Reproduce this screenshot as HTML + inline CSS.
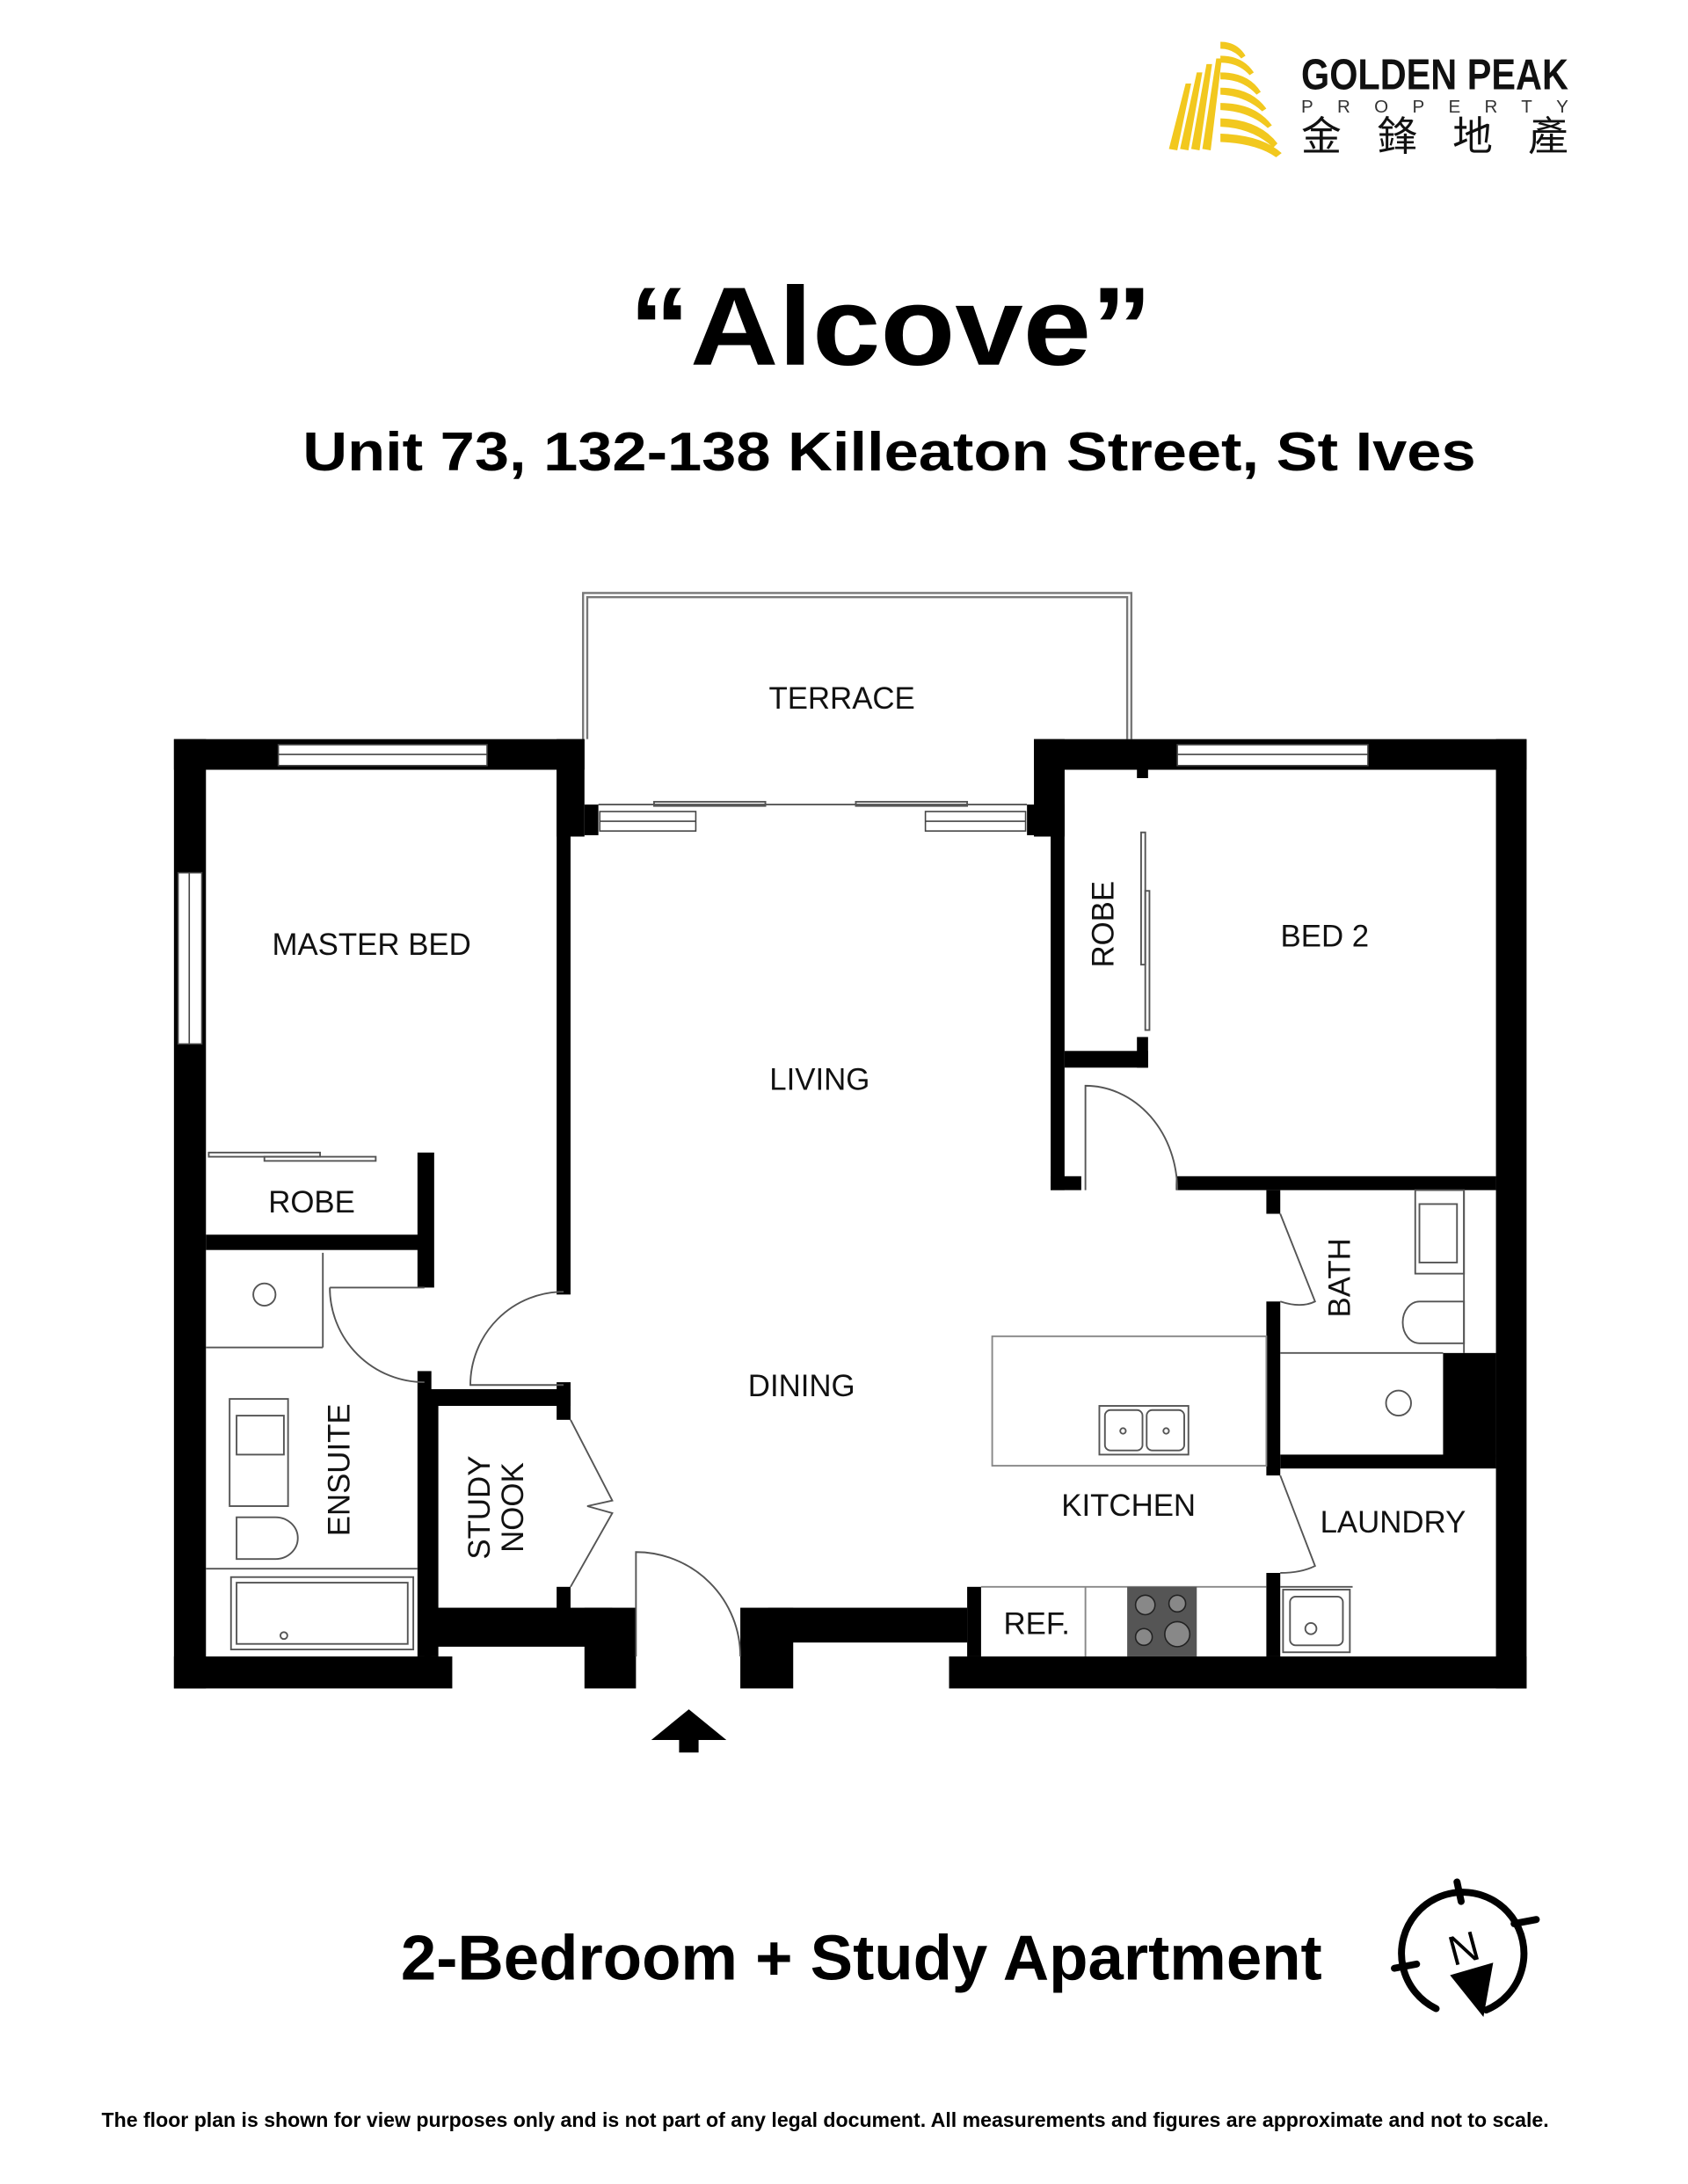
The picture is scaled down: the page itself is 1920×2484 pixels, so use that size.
<!DOCTYPE html>
<html><head><meta charset="utf-8"><style>
html,body{margin:0;padding:0;background:#fff}
svg{display:block}
text{font-family:"Liberation Sans",sans-serif}
</style></head><body>
<svg width="1920" height="2484" viewBox="0 0 1213 1569" preserveAspectRatio="none" xmlns="http://www.w3.org/2000/svg">
<rect width="1213" height="1569" fill="#fff"/>
<!-- logo -->
<g fill="#f2c81e">
<polygon points="840,107 852,60 856,60 846,108"/>
<polygon points="848,107 860,52 864,52 854,108"/>
<polygon points="856,107 867,46 871,46 862,108"/>
<polygon points="864,107 874,42 878,42 870,108"/>
<path d="M877,30 q12,0 18,10 l-3,2 q-6,-7 -15,-7z"/>
<path d="M877,40 q16,0 24,12 l-3,2 q-8,-9 -21,-9z"/>
<path d="M877,52 q20,0 29,14 l-3,2 q-10,-11 -26,-11z"/>
<path d="M877,63 q22,0 33,15 l-3,2 q-12,-11 -30,-12z"/>
<path d="M877,74 q25,0 37,16 l-3,2 q-13,-12 -34,-13z"/>
<path d="M877,85 q28,1 41,18 l-3,3 q-15,-14 -38,-15z"/>
<path d="M877,96 q30,1 44,14 l-4,3 q-14,-10 -40,-11z"/>
</g>
<text x="935" y="64" font-size="31" font-weight="bold" fill="#111" textLength="192" lengthAdjust="spacingAndGlyphs">GOLDEN PEAK</text>
<text x="935" y="81" font-size="13" fill="#333" textLength="192" lengthAdjust="spacing">PROPERTY</text>
<text x="935" y="108" font-size="29" fill="#111" style='font-family:"Noto Sans CJK TC",sans-serif' textLength="192" lengthAdjust="spacing">金鋒地產</text>
<!-- titles -->
<text x="640" y="262" font-size="80" font-weight="bold" text-anchor="middle" textLength="376" lengthAdjust="spacingAndGlyphs">“Alcove”</text>
<text x="639" y="338" font-size="39" font-weight="bold" text-anchor="middle" textLength="843" lengthAdjust="spacingAndGlyphs">Unit 73, 132-138 Killeaton Street, St Ives</text>
<text x="619" y="1422" font-size="46" font-weight="bold" text-anchor="middle" textLength="662" lengthAdjust="spacingAndGlyphs">2-Bedroom + Study Apartment</text>
<text x="593" y="1528" font-size="14.5" font-weight="bold" text-anchor="middle" textLength="1040" lengthAdjust="spacingAndGlyphs">The floor plan is shown for view purposes only and is not part of any legal document. All measurements and figures are approximate and not to scale.</text>
<!-- terrace -->
<g fill="none" stroke="#777" stroke-width="1.5">
<path d="M419,531 V426 H813 V531"/><path d="M422,531 V429 H810 V531"/>
</g>
<!-- walls -->
<g fill="#000">
<rect x="125" y="531" width="23" height="682"/>
<rect x="125" y="531" width="295" height="22"/>
<rect x="400" y="531" width="20" height="70"/>
<rect x="400" y="553" width="10" height="377"/>
<rect x="420" y="578" width="10" height="22"/>
<rect x="738" y="578" width="27" height="22"/>
<rect x="743" y="531" width="354" height="22"/>
<rect x="743" y="531" width="22" height="70"/>
<rect x="755" y="553" width="10" height="302"/>
<rect x="1075" y="531" width="22" height="682"/>
<rect x="817" y="553" width="8" height="6"/>
<rect x="765" y="755" width="60" height="12"/>
<rect x="817" y="745" width="8" height="22"/>
<rect x="845" y="845" width="230" height="10"/>
<rect x="755" y="845" width="22" height="10"/>
<rect x="148" y="887" width="157" height="11"/>
<rect x="300" y="828" width="12" height="97"/>
<rect x="300" y="985" width="10" height="205"/>
<rect x="305" y="998" width="105" height="12"/>
<rect x="400" y="993" width="10" height="27"/>
<rect x="400" y="1140" width="10" height="20"/>
<rect x="305" y="1000" width="10" height="190"/>
<rect x="125" y="1190" width="200" height="23"/>
<rect x="305" y="1155" width="135" height="28"/>
<rect x="420" y="1155" width="37" height="58"/>
<rect x="532" y="1155" width="38" height="58"/>
<rect x="552" y="1155" width="143" height="25"/>
<rect x="682" y="1190" width="415" height="23"/>
<rect x="695" y="1140" width="10" height="50"/>
<rect x="910" y="855" width="10" height="17"/>
<rect x="910" y="935" width="10" height="125"/>
<rect x="910" y="1130" width="10" height="60"/>
<rect x="920" y="1045" width="155" height="10"/>
<rect x="1037" y="972" width="38" height="75"/>
</g>
<!-- windows -->
<g fill="#fff" stroke="#444" stroke-width="1">
<rect x="200" y="535" width="150" height="15"/><line x1="200" y1="542" x2="350" y2="542"/>
<rect x="846" y="535" width="137" height="15"/><line x1="846" y1="542" x2="983" y2="542"/>
<rect x="128" y="627" width="17" height="123"/><line x1="136" y1="627" x2="136" y2="750"/>
<rect x="431" y="583" width="69" height="14"/><line x1="431" y1="590" x2="500" y2="590"/>
<rect x="665" y="583" width="72" height="14"/><line x1="665" y1="590" x2="737" y2="590"/>
</g>
<g fill="none" stroke="#555" stroke-width="1.2">
<line x1="430" y1="578" x2="738" y2="578"/>
<rect x="470" y="576" width="80" height="3"/><rect x="615" y="576" width="80" height="3"/>
<rect x="150" y="828" width="80" height="3"/><rect x="190" y="831" width="80" height="3"/>
<rect x="820" y="598" width="3" height="95"/><rect x="823" y="640" width="3" height="100"/>
<path d="M237,925 H305 M237,925 A68,68 0 0 0 305,993"/>
<path d="M405,928 A67,67 0 0 0 338,995 H405"/>
<path d="M457,1190 V1115 A75,75 0 0 1 532,1190"/>
<path d="M780,855 V780 A66,75 0 0 1 846,855"/>
<path d="M920,872 L945,935 Q935,940 920,935"/>
<path d="M920,1060 L945,1125 Q935,1130 920,1130"/>
<path d="M410,1020 L440,1078 L422,1082 L440,1087 L410,1140"/>
<rect x="713" y="960" width="197" height="93" stroke="#888"/>
<rect x="790" y="1010" width="64" height="35"/><rect x="794" y="1013" width="27" height="29" rx="4"/><rect x="824" y="1013" width="27" height="29" rx="4"/>
<circle cx="807" cy="1028" r="2"/><circle cx="838" cy="1028" r="2"/>
<line x1="705" y1="1140" x2="910" y2="1140" stroke="#888"/>
<line x1="780" y1="1140" x2="780" y2="1190" stroke="#888"/>
<line x1="920" y1="972" x2="1037" y2="972"/>
<rect x="1017" y="855" width="35" height="60"/><rect x="1020" y="865" width="27" height="42"/>
<path d="M1052,935 H1020 A12,15 0 0 0 1020,965 H1052 Z"/><line x1="1052" y1="855" x2="1052" y2="972"/>
<circle cx="1005" cy="1008" r="9"/>
<line x1="920" y1="1140" x2="972" y2="1140"/>
<rect x="922" y="1142" width="48" height="45"/><rect x="927" y="1147" width="38" height="35" rx="4"/><circle cx="942" cy="1170" r="4"/>
<line x1="148" y1="968" x2="232" y2="968"/><line x1="232" y1="900" x2="232" y2="968"/>
<circle cx="190" cy="930" r="8"/>
<rect x="165" y="1005" width="42" height="77"/><rect x="170" y="1017" width="34" height="28"/>
<path d="M170,1090 H198 A16,15 0 0 1 198,1120 H170 Z"/>
<line x1="148" y1="1127" x2="300" y2="1127"/>
<rect x="166" y="1133" width="131" height="52"/><rect x="170" y="1137" width="123" height="44"/>
<circle cx="204" cy="1175" r="2.5"/>
</g>
<rect x="810" y="1140" width="50" height="50" fill="#555"/>
<g fill="#888" stroke="#222"><circle cx="823" cy="1153" r="7"/><circle cx="846" cy="1152" r="6"/><circle cx="822" cy="1176" r="6"/><circle cx="846" cy="1174" r="9"/></g>
<!-- labels -->
<g font-size="22" fill="#111" text-anchor="middle">
<text x="605" y="509">TERRACE</text>
<text x="267" y="686">MASTER BED</text>
<text x="589" y="783">LIVING</text>
<text x="952" y="680">BED 2</text>
<text x="224" y="871">ROBE</text>
<text x="576" y="1003">DINING</text>
<text x="811" y="1089">KITCHEN</text>
<text x="1001" y="1101">LAUNDRY</text>
<text x="745" y="1174">REF.</text>
<text transform="translate(800,664) rotate(-90)">ROBE</text>
<text transform="translate(970,918) rotate(-90)">BATH</text>
<text transform="translate(251,1056) rotate(-90)">ENSUITE</text>
<text transform="translate(352,1083) rotate(-90)">STUDY</text>
<text transform="translate(376,1083) rotate(-90)">NOOK</text>
</g>
<!-- entry arrow -->
<polygon points="495,1228 522,1250 502,1250 502,1259 488,1259 488,1250 468,1250" fill="#000"/>
<!-- compass -->
<g stroke="#000" stroke-width="5" fill="none" stroke-linecap="round">
<path d="M1068,1444 A44,44 0 1 0 1032,1443"/>
<line x1="1047" y1="1352" x2="1050" y2="1366"/>
<line x1="1088" y1="1382" x2="1104" y2="1379"/>
<line x1="1002" y1="1414" x2="1018" y2="1411"/>
</g>
<text x="1052" y="1410" font-size="30" text-anchor="middle" transform="rotate(-15 1052 1400)">N</text>
<polygon points="1042,1419 1073,1410 1066,1449" fill="#000"/>
</svg>
</body></html>
